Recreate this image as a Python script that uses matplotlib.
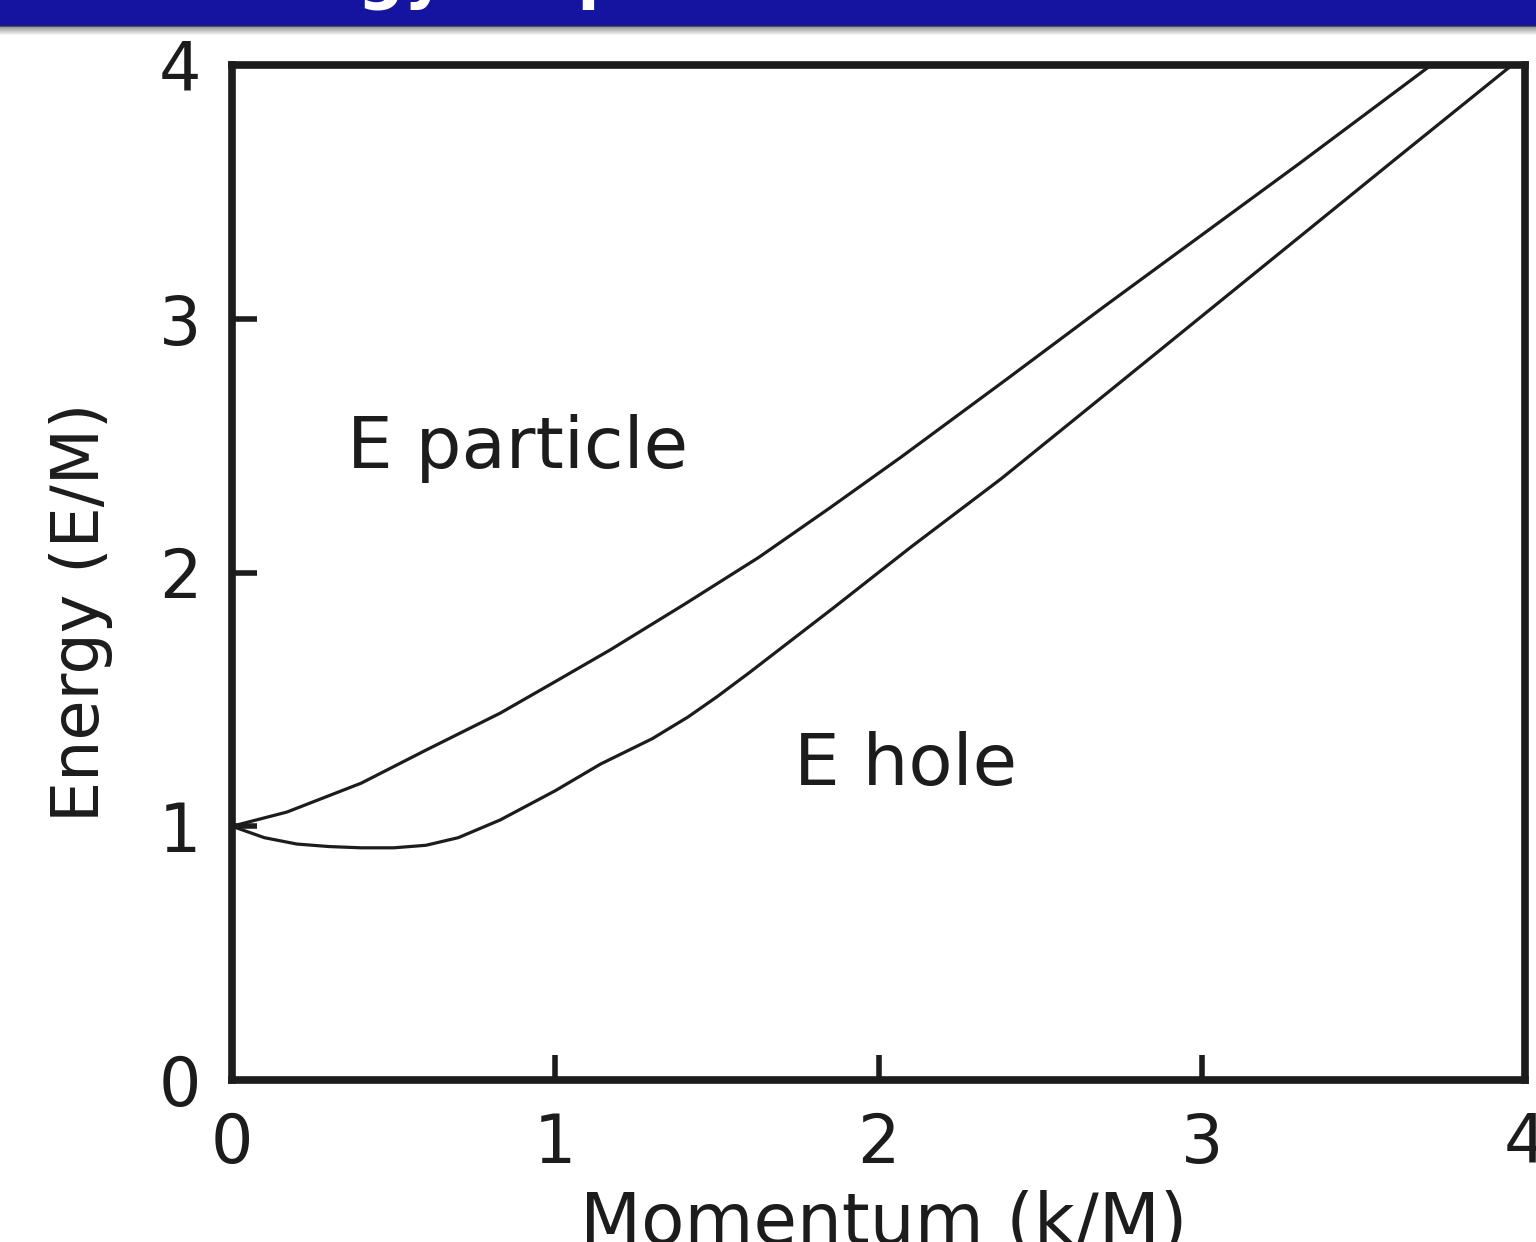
import numpy as np
import matplotlib
matplotlib.use("Agg")
import matplotlib.pyplot as plt

# dispersion curves, energy and momentum in units of M
k_particle = [0, 0.17, 0.4, 0.6, 0.83, 1.0, 1.17, 1.4, 1.63, 1.85, 2.07, 2.4, 2.7, 3.0, 3.3, 3.71]
e_particle = [1.0, 1.056, 1.17, 1.30, 1.446, 1.57, 1.695, 1.875, 2.06, 2.255, 2.455, 2.765, 3.05, 3.33, 3.61, 4.0]

k_hole = [0, 0.1, 0.2, 0.3, 0.4, 0.5, 0.6, 0.7, 0.83, 1.0, 1.14, 1.3, 1.41, 1.5, 1.6, 1.86, 2.1, 2.38, 2.7, 3.0, 3.3, 3.6, 3.96]
e_hole = [1.0, 0.955, 0.93, 0.92, 0.915, 0.915, 0.925, 0.955, 1.025, 1.14, 1.245, 1.345, 1.43, 1.51, 1.605, 1.86, 2.10, 2.37, 2.70, 3.01, 3.32, 3.63, 4.0]

ticks = [0, 1, 2, 3, 4]
title = "Energy dispersion"

ink = "#1c1c1c"
plt.rcParams["font.family"] = ["DejaVu Sans"]

fig = plt.figure(figsize=(15.36, 12.42), dpi=100)

# slide header band across the top
band = fig.add_axes([0, 1 - 36 / 1242, 1, 36 / 1242])
rows = np.ones((36, 1, 3))
rows[:25] = [0.08, 0.08, 0.63]
rows[25] = [0.12, 0.12, 0.45]
rows[26] = [0.30, 0.30, 0.42]
fade = np.linspace(0.62, 1.0, 9)
for i, v in enumerate(fade):
    rows[27 + i] = [v, v, v]
band.imshow(rows, aspect="auto", extent=[0, 1, 0, 1], interpolation="nearest")
band.set_axis_off()
fig.text(190 / 1536, 1 + 5 / 1242, title, color="white", fontsize=47,
         fontweight="bold", va="baseline", ha="left")

ax = fig.add_axes([232 / 1536, 1 - 1080 / 1242, 1293 / 1536, 1015 / 1242])
ax.plot(k_particle, e_particle, color=ink, lw=2.3, solid_joinstyle="round")
ax.plot(k_hole, e_hole, color=ink, lw=2.3, solid_joinstyle="round")

ax.set_xlim(0, 4)
ax.set_ylim(0, 4)
ax.set_xticks(ticks)
ax.set_yticks(ticks)
ax.set_xticklabels([str(t) for t in ticks])
ax.set_yticklabels([str(t) for t in ticks])
ax.tick_params(direction="in", length=18, width=4, color=ink,
               labelsize=48, labelcolor=ink, pad=22)
for s in ax.spines.values():
    s.set_linewidth(5.5)
    s.set_color(ink)

ax.set_xlabel("Momentum (k/M)", fontsize=51, color=ink)
ax.xaxis.set_label_coords(0.504, -0.108)
ax.set_ylabel("Energy (E/M)", fontsize=47, color=ink)
ax.yaxis.set_label_coords(-0.092, 0.461)

ax.text(0.356, 2.41, "E particle", fontsize=52, color=ink, va="baseline")
ax.text(1.74, 1.163, "E hole", fontsize=52, color=ink, va="baseline")

fig.savefig("out.png", dpi=100)
